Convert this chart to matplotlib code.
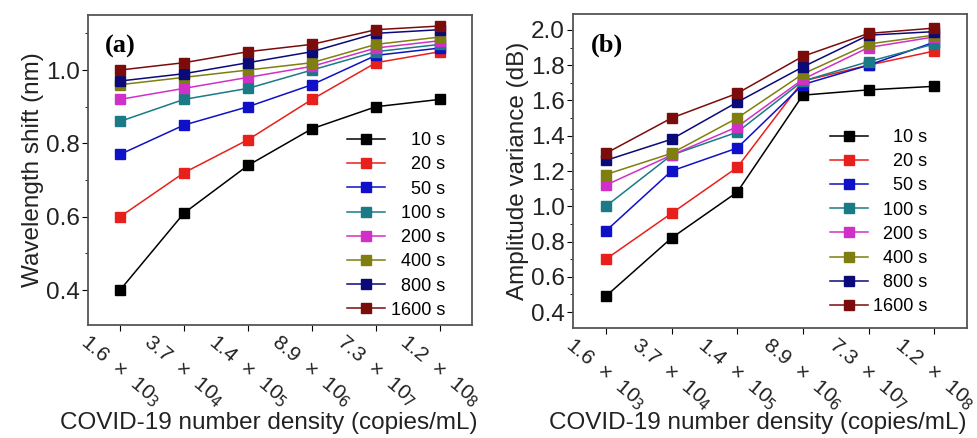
import numpy as np
import matplotlib.pyplot as plt
from matplotlib.ticker import MultipleLocator

# Data
densities = ['1.6  \u00d7  10$_3$', '3.7  \u00d7  10$_4$', '1.4  \u00d7  10$_5$',
             '8.9  \u00d7  10$_6$', '7.3  \u00d7  10$_7$', '1.2  \u00d7  10$_8$']
times = ['    10 s', '    20 s', '    50 s', '  100 s', '  200 s', '  400 s', '  800 s', '1600 s']
colors = ['#000000', '#e8201c', '#1010c8', '#1a7a86', '#d030c8', '#7f7f10', '#0a0a78', '#7a0c0c']

shift_10 = [0.40, 0.61, 0.74, 0.84, 0.90, 0.92]
shift_20 = [0.60, 0.72, 0.81, 0.92, 1.02, 1.05]
shift_50 = [0.77, 0.85, 0.90, 0.96, 1.04, 1.06]
shift_100 = [0.86, 0.92, 0.95, 1.00, 1.05, 1.07]
shift_200 = [0.92, 0.95, 0.98, 1.01, 1.06, 1.08]
shift_400 = [0.96, 0.98, 1.00, 1.02, 1.07, 1.09]
shift_800 = [0.97, 0.99, 1.02, 1.05, 1.10, 1.11]
shift_1600 = [1.00, 1.02, 1.05, 1.07, 1.11, 1.12]

amp_10 = [0.49, 0.82, 1.08, 1.63, 1.66, 1.68]
amp_20 = [0.70, 0.96, 1.22, 1.71, 1.80, 1.88]
amp_50 = [0.86, 1.20, 1.33, 1.69, 1.80, 1.93]
amp_100 = [1.00, 1.29, 1.42, 1.71, 1.82, 1.92]
amp_200 = [1.12, 1.29, 1.45, 1.72, 1.90, 1.96]
amp_400 = [1.18, 1.30, 1.50, 1.75, 1.92, 1.97]
amp_800 = [1.26, 1.38, 1.59, 1.79, 1.97, 1.99]
amp_1600 = [1.30, 1.50, 1.64, 1.85, 1.98, 2.01]

shift = [shift_10, shift_20, shift_50, shift_100, shift_200, shift_400, shift_800, shift_1600]
amp = [amp_10, amp_20, amp_50, amp_100, amp_200, amp_400, amp_800, amp_1600]

plt.rcParams['font.family'] = ['Liberation Sans', 'DejaVu Sans']

fig = plt.figure(figsize=(9.77, 4.38), dpi=100)
ax1 = fig.add_axes([88 / 977, 1 - 325 / 438, 384 / 977, 310 / 438])
ax2 = fig.add_axes([573 / 977, 1 - 328 / 438, 394 / 977, 314 / 438])

x = np.arange(len(densities))


def draw(ax, series, ylim, ylabel, tag, legend_anchor, xlab_y):
    for vals, lab, c in zip(series, times, colors):
        ax.plot(x, vals, '-s', color=c, lw=1.1, ms=6.5, label=lab)
    ax.set_xlim(-0.5, 5.5)
    ax.set_ylim(*ylim)
    ax.set_xticks(x)
    ax.set_xticklabels(densities, rotation=-40, ha='center', va='top', fontsize=15, color='#222222')
    ax.yaxis.set_major_locator(MultipleLocator(0.2))
    ax.yaxis.set_minor_locator(MultipleLocator(0.1))
    ax.yaxis.set_major_formatter(plt.FormatStrFormatter('%.1f'))
    ax.tick_params(axis='y', which='major', direction='out', length=4, pad=2,
                   labelsize=17.5, labelcolor='#222222')
    ax.tick_params(axis='y', which='minor', direction='out', length=2)
    ax.tick_params(axis='x', direction='out', length=4, pad=1)
    for s in ax.spines.values():
        s.set_color('#555555')
        s.set_linewidth(1.3)
    ax.set_ylabel(ylabel, fontsize=17.5, color='#222222', labelpad=1)
    ax.set_xlabel('COVID-19 number density (copies/mL)', fontsize=17.5, color='#222222')
    ax.xaxis.set_label_coords(0.47, xlab_y)
    ax.xaxis.label.set_va('center')
    ax.text(0.045, 0.9, tag, transform=ax.transAxes, family=['Liberation Serif'],
            fontweight='bold', fontsize=19, va='center', ha='left')
    ax.legend(loc='lower right', bbox_to_anchor=legend_anchor, frameon=False,
              fontsize=13, handlelength=2.1, handletextpad=0.3, borderpad=0,
              labelspacing=0.4, borderaxespad=0)


draw(ax1, shift, (0.305, 1.15), 'Wavelength shift (nm)', '(a)', (0.93, 0.02), -0.316)
draw(ax2, amp, (0.31, 2.09), 'Amplitude variance (dB)', '(b)', (0.90, 0.04), -0.303)

fig.savefig('out.png', dpi=100)
